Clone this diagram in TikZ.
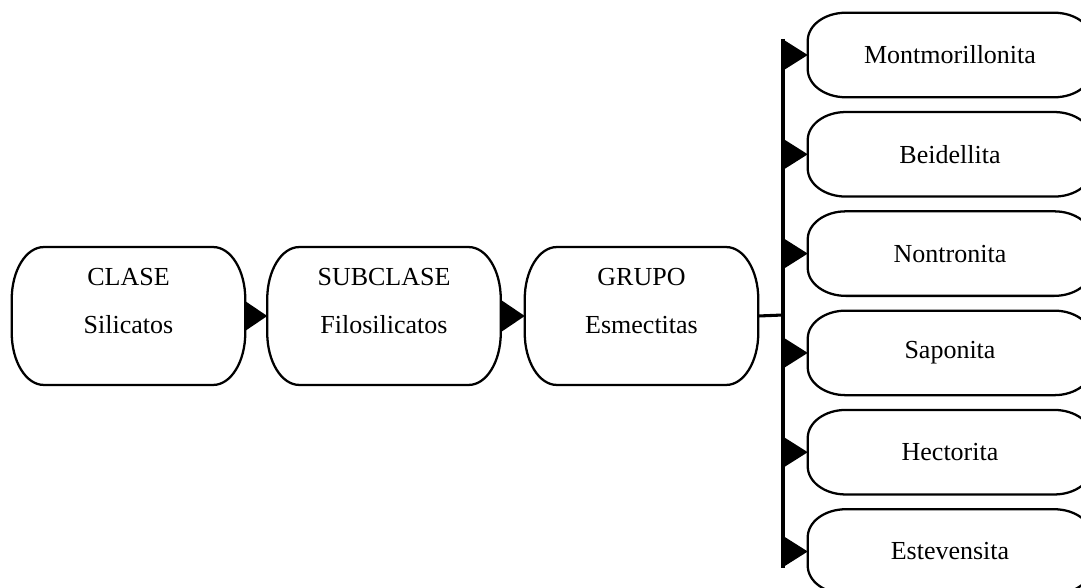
\documentclass[tikz,border=0pt]{standalone}
\usepackage{fontspec}
\setmainfont{Liberation Serif}
\usetikzlibrary{arrows.meta}
\newcommand\eboxdraw[3]{%
  \draw[boxline] ([xshift=#2]#1.north west) -- ([xshift=-#2]#1.north east)
    arc[start angle=90,end angle=0,x radius=#2,y radius=#3]
    -- ([yshift=#3]#1.south east)
    arc[start angle=0,end angle=-90,x radius=#2,y radius=#3]
    -- ([xshift=#2]#1.south west)
    arc[start angle=270,end angle=180,x radius=#2,y radius=#3]
    -- ([yshift=-#3]#1.north west)
    arc[start angle=180,end angle=90,x radius=#2,y radius=#3] -- cycle;}
\begin{document}
\begin{tikzpicture}[x=0.75pt,y=-0.75pt,
  txt/.style={font=\fontsize{19.5pt}{36pt}\selectfont, align=center, inner sep=0pt},
  bigbox/.style={draw=none, inner sep=0pt, minimum width=174.75pt, minimum height=103pt},
  smallbox/.style={draw=none, inner sep=0pt, minimum width=213pt, minimum height=63pt, txt},
  boxline/.style={line width=1.7pt, black},
  conn/.style={line width=2.3pt, black},
  tipL/.style={-{Triangle[length=17pt,width=23pt,line width=0pt]}},
  tipR/.style={-{Triangle[length=19pt,width=24pt,line width=0pt]}}]
\useasboundingbox (0,0) rectangle (1081,588);
\clip (0,0) rectangle (1081,588);
\fill[white] (0,0) rectangle (1081,588);

% left chain
\node[bigbox] (clase) at (128.5,316) {};
\node[bigbox] (subclase) at (384,316) {};
\node[bigbox] (grupo) at (641.5,316) {};
\eboxdraw{clase}{24pt}{39pt}
\eboxdraw{subclase}{24pt}{39pt}
\eboxdraw{grupo}{24pt}{39pt}
\node[txt] (clase-t) at ([yshift=11pt]clase.center) {CLASE\\Silicatos};
\node[txt] (subclase-t) at ([yshift=11pt]subclase.center) {SUBCLASE\\Filosilicatos};
\node[txt] (grupo-t) at ([yshift=11pt]grupo.center) {GRUPO\\Esmectitas};

% right column
\node[smallbox] (m1) at (950,55) {Montmorillonita};
\node[smallbox] (m2) at (950,154.3) {Beidellita};
\node[smallbox] (m3) at (950,253.6) {Nontronita};
\node[smallbox] (m4) at (950,352.9) {Saponita};
\node[smallbox] (m5) at (950,452.2) {Hectorita};
\node[smallbox] (m6) at (950,551.5) {Estevensita};
\foreach \n in {m1,m2,m3,m4,m5,m6}{\eboxdraw{\n}{28.5pt}{21pt}}

% connectors
\draw[conn,tipL] (clase.east) -- (subclase.west);
\draw[conn,tipL] (subclase.east) -- (grupo.west);
\coordinate (bus) at (783,315);
\draw[conn] (grupo.east) -- (bus);
\coordinate (bustop) at ([yshift=12pt]bus |- m1.west);
\coordinate (busbot) at ([yshift=-12pt]bus |- m6.west);
\draw[conn] (bustop) -- (busbot);
\foreach \n in {m1,m2,m3,m4,m5,m6}{\draw[conn,tipR] (bus |- \n.west) -- (\n.west);}
\end{tikzpicture}
\end{document}
